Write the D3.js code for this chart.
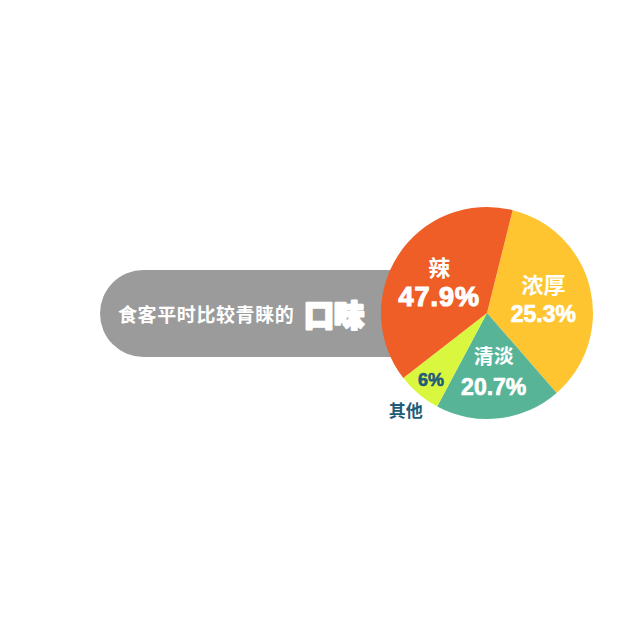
<!DOCTYPE html>
<html><head><meta charset="utf-8">
<script src="https://cdn.jsdelivr.net/npm/d3@7"></script>
<style>body{margin:0;background:#fff}</style>
</head><body>
<svg id="chart" width="640" height="640"></svg>
<script>
// data (slice order clockwise from the top-right boundary)
const categories = ["浓厚", "清淡", "其他", "辣"];
const sliceValues = [34.7, 19.2, 6.7, 39.4];          // slice sizes as drawn in the picture
const percentLabels = ["25.3%", "20.7%", "6%", "47.9%"]; // labels printed on the chart
const colors = ["#FEC531", "#57B496", "#DAF73F", "#EF5E26"];
const titleText = "食客平时比较青睐的";
const titleEmph = "口味";

const svg = d3.select("#chart");
const cx = 487, cy = 313, R = 106;
const font = "'Noto Sans CJK SC', 'Liberation Sans', sans-serif";
const numFont = "'Liberation Sans', Arial, sans-serif";

// title pill
svg.append("rect").attr("x", 100).attr("y", 270).attr("width", 340).attr("height", 87)
  .attr("rx", 43.5).attr("fill", "#9B9B9B");
svg.append("text").attr("x", 118).attr("y", 313).attr("dominant-baseline", "central")
  .attr("fill", "#fff").attr("font-family", font).attr("font-weight", 700)
  .attr("font-size", 19).attr("letter-spacing", 0.6).text(titleText);
svg.append("text").attr("x", 304).attr("y", 313).attr("dominant-baseline", "central")
  .attr("fill", "#fff").attr("stroke", "#fff").attr("stroke-width", 2.5)
  .attr("stroke-linejoin", "round")
  .attr("font-family", font).attr("font-weight", 900)
  .attr("font-size", 30).text(titleEmph);

const deg = Math.PI / 180;
const pie = d3.pie().sort(null).value(d => d).startAngle(14 * deg).endAngle(374 * deg);
const arcs = pie(sliceValues);
const arc = d3.arc().innerRadius(0).outerRadius(R);
const g = svg.append("g").attr("transform", `translate(${cx},${cy})`);
g.selectAll("path").data(arcs).enter().append("path")
  .attr("d", arc).attr("fill", (d, i) => colors[i]);

const pos = (d, r) => { const a = (d.startAngle + d.endAngle) / 2; return [Math.sin(a) * r, -Math.cos(a) * r]; };

// label settings per slice
const labelR = [58, 59, 87, 57];
const nameSize = [22, 20, 17, 22];
const pctSize = [23, 23, 18, 27];
arcs.forEach((d, i) => {
  const [x, y] = pos(d, labelR[i]);
  if (i === 2) {
    g.append("text").attr("x", x).attr("y", y).attr("text-anchor", "middle")
      .attr("dominant-baseline", "central").attr("fill", "#1E5C78")
      .attr("stroke", "#1E5C78").attr("stroke-width", 0.6)
      .attr("font-family", numFont).attr("font-weight", 700)
      .attr("font-size", pctSize[i]).text(percentLabels[i]);
    const [ox, oy] = pos(d, 126);
    g.append("text").attr("x", ox).attr("y", oy).attr("text-anchor", "middle")
      .attr("dominant-baseline", "central").attr("fill", "#1E5C78")
      .attr("font-family", font).attr("font-weight", 700)
      .attr("font-size", nameSize[i]).text(categories[i]);
  } else {
    g.append("text").attr("x", x).attr("y", y - 16).attr("text-anchor", "middle")
      .attr("dominant-baseline", "central").attr("fill", "#fff")
      .attr("font-family", font).attr("font-weight", 700)
      .attr("font-size", nameSize[i]).text(categories[i]);
    g.append("text").attr("x", x).attr("y", y + 15).attr("text-anchor", "middle")
      .attr("dominant-baseline", "central").attr("fill", "#fff")
      .attr("stroke", "#fff").attr("stroke-width", i === 3 ? 1.2 : 0.7)
      .attr("font-family", numFont).attr("font-weight", 700)
      .attr("font-size", pctSize[i]).attr("letter-spacing", i === 3 ? 1 : 0)
      .text(percentLabels[i]);
  }
});
</script>
</body></html>
